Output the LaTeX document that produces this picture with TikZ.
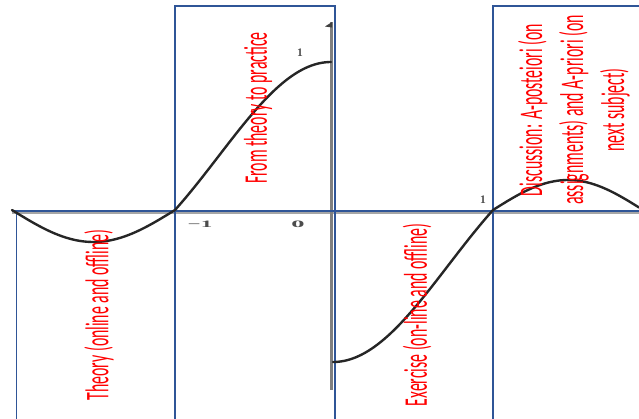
\documentclass[tikz,border=0pt]{standalone}
\usepackage{fontspec}
\setmainfont{Carlito}
\newfontfamily\tickfont{Liberation Serif}
\usepackage{graphicx}
\definecolor{boxblue}{RGB}{47,85,151}
\definecolor{txtred}{RGB}{255,0,0}
\begin{document}
\begin{tikzpicture}[x=1pt,y=-1pt,
  panel/.style={draw=boxblue,line width=1.5pt},
  curve/.style={draw=black!85,line width=2.4pt,line cap=round},
  haxis/.style={draw=black!35,line width=1.6pt},
  vaxis/.style={draw=black!50,line width=3pt},
  lbl/.style={text=txtred,font=\fontsize{33}{41}\selectfont,rotate=90,inner sep=0pt,align=center},
  ticklbl/.style={text=black!70,font=\tickfont\bfseries\fontsize{11.5}{13}\selectfont,inner sep=0pt}]
\useasboundingbox (0,0) rectangle (639,418);
% axes
\draw[haxis] (12,213) -- (639,213);
\draw[vaxis] (331.5,22) -- (331.5,390);
\fill[black!75] (332,22) -- (325,26.5) -- (332,27.5) -- cycle;
% panels
\draw[panel] (16.5,430) -- (16.5,211) -- (175,211) -- (175,430);
\draw[panel] (175,211) -- (175,6) -- (335,6) -- (335,211);
\draw[panel] (335,430) -- (335,211) -- (493,211) -- (493,430);
\draw[panel] (493,211) -- (493,6) -- (650,6);
\draw[panel] (12,211) -- (639,211);
% curve
\draw[curve] plot[domain=12:175,samples=60] (\x,{210+32*sin(((\x-12)/163)*180)});
\draw[curve] plot[domain=175:331,samples=80] (\x,{210-148*(0.75*sin(((\x-175)/156)*90)+0.125*(1-cos(((\x-175)/156)*180)))});
\draw[curve] plot[domain=333:493,samples=80] (\x,{362-152*(0.75*(1-cos(((\x-333)/160)*90))+0.125*(1-cos(((\x-333)/160)*180)))});
\draw[curve] plot[domain=493:639,samples=60] (\x,{210-30*sin(((\x-493)/150)*180)});
% tick labels
\node[ticklbl] (one) at (300,53) {1};
\node[ticklbl] (minusone) at (200,224) {\scalebox{2}[0.85]{−1}};
\node[ticklbl] (zero) at (298,224) {\scalebox{2.3}[0.85]{0}};
\node[ticklbl] (onex) at (483,200) {1};
% texts
\node[lbl] (theory) at (99,315) {\scalebox{0.48}[1]{Theory (online and offline)}};
\node[lbl] (practice) at (258,108) {\scalebox{0.48}[1]{From theory to practice}};
\node[lbl] (exercise) at (417,315) {\scalebox{0.48}[1]{Exercise (on-line and offline)}};
\node[lbl] (discussion) at (575,110) {\scalebox{0.48}[1]{\begin{tabular}{@{}c@{}}Discussion: A-posteiori (on\\assignments) and A-priori (on\\next subject)\end{tabular}}};
\end{tikzpicture}
\end{document}
